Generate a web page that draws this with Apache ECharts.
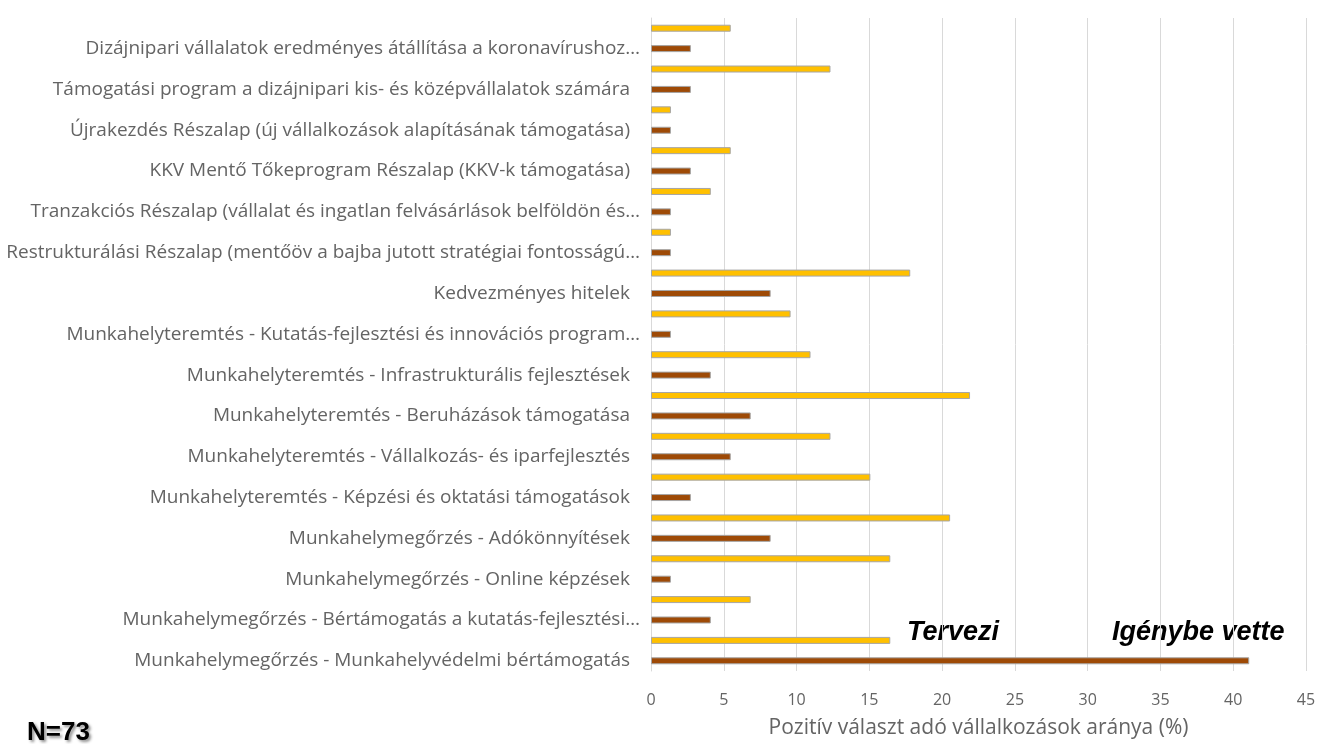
<!DOCTYPE html>
<html>
<head>
<meta charset="utf-8">
<script src="https://cdn.jsdelivr.net/npm/echarts@6/dist/echarts.min.js"></script>
<style>
    html, body { margin: 0; padding: 0; background: #fff; }
    #chart { width: 1343px; height: 744px; }
</style>
</head>
<body>
<div id="chart"></div>
<script>
// kategóriák fentről lefelé
const categories = [
    "Dizájnipari vállalatok eredményes átállítása a koronavírushoz…",
    "Támogatási program a dizájnipari kis- és középvállalatok számára",
    "Újrakezdés Részalap (új vállalkozások alapításának támogatása)",
    "KKV Mentő Tőkeprogram Részalap (KKV-k támogatása)",
    "Tranzakciós Részalap (vállalat és ingatlan felvásárlások belföldön és…",
    "Restrukturálási Részalap (mentőöv a bajba jutott stratégiai fontosságú…",
    "Kedvezményes hitelek",
    "Munkahelyteremtés - Kutatás-fejlesztési és innovációs program…",
    "Munkahelyteremtés - Infrastrukturális fejlesztések",
    "Munkahelyteremtés - Beruházások támogatása",
    "Munkahelyteremtés - Vállalkozás- és iparfejlesztés",
    "Munkahelyteremtés - Képzési és oktatási támogatások",
    "Munkahelymegőrzés - Adókönnyítések",
    "Munkahelymegőrzés - Online képzések",
    "Munkahelymegőrzés - Bértámogatás a kutatás-fejlesztési…",
    "Munkahelymegőrzés - Munkahelyvédelmi bértámogatás"
];
// Tervezi (sárga)
const tervezi = [5.48, 12.33, 1.37, 5.48, 4.11, 1.37, 17.81, 9.59, 10.96, 21.92, 12.33, 15.07, 20.55, 16.44, 6.85, 16.44];
// Igénybe vette (barna)
const igenybeVette = [2.74, 2.74, 1.37, 2.74, 1.37, 1.37, 8.22, 1.37, 4.11, 6.85, 5.48, 2.74, 8.22, 1.37, 4.11, 41.1];
const xTicks = [0, 45, 5];

// minden kategória két sorból áll: felül a sárga, alul a barna sáv (a felirat a barnánál)
const rows = [];
const rowTervezi = [];
const rowIgenybe = [];
categories.forEach((name, i) => {
    rows.push("");
    rowTervezi.push(tervezi[i]);
    rowIgenybe.push(null);
    rows.push(name);
    rowTervezi.push(null);
    rowIgenybe.push(igenybeVette[i]);
});

const chart = echarts.init(document.getElementById("chart"));
const labelFont = "'Open Sans', sans-serif";
const textColor = "#646464";

chart.setOption({
    animation: false,
    grid: { left: 651, top: 18, width: 655, height: 657, containLabel: false },
    xAxis: {
        type: "value",
        min: xTicks[0],
        max: xTicks[1],
        interval: xTicks[2],
        name: "Pozitív választ adó vállalkozások aránya (%)",
        nameLocation: "middle",
        nameGap: 47,
        nameTextStyle: { color: textColor, fontSize: 21, fontFamily: labelFont },
        axisLine: { show: false },
        axisTick: { show: false },
        axisLabel: { color: textColor, fontSize: 16, fontFamily: labelFont, margin: 21 },
        splitLine: { lineStyle: { color: "#D9D9D9", width: 1 } }
    },
    yAxis: {
        type: "category",
        data: rows,
        inverse: true,
        axisLine: { lineStyle: { color: "#D9D9D9", width: 1 } },
        axisTick: { show: false },
        axisLabel: {
            color: textColor,
            fontSize: 19,
            fontFamily: labelFont,
            margin: 11,
            interval: 0,
            // a nem rövidített feliratok kicsit beljebb végződnek
            formatter(v) {
                return v.endsWith("…") ? v : "{p|" + v + "}";
            },
            rich: {
                p: { color: textColor, fontSize: 19, fontFamily: labelFont, padding: [0, 10, 0, 0] }
            }
        }
    },
    series: [
        {
            name: "Tervezi",
            type: "bar",
            data: rowTervezi,
            barWidth: 7,
            barGap: "-100%",
            itemStyle: { color: "#FFC000", borderColor: "#A6A6A6", borderWidth: 1 }
        },
        {
            name: "Igénybe vette",
            type: "bar",
            data: rowIgenybe,
            barWidth: 7,
            itemStyle: { color: "#9E4A06", borderColor: "#A6A6A6", borderWidth: 1 }
        }
    ],
    graphic: [
        {
            type: "text", left: 907, top: 619,
            style: { text: "Tervezi", font: "italic bold 27px Arial, 'Liberation Sans', sans-serif", fill: "#000" }
        },
        {
            type: "text", left: 1112, top: 619,
            style: { text: "Igénybe vette", font: "italic bold 27px Arial, 'Liberation Sans', sans-serif", fill: "#000" }
        },
        {
            type: "text", left: 27, top: 720,
            style: {
                text: "N=73", font: "bold 26px Arial, 'Liberation Sans', sans-serif", fill: "#000",
                textShadowColor: "rgba(0,0,0,0.45)", textShadowBlur: 3, textShadowOffsetX: 2, textShadowOffsetY: 2
            }
        }
    ]
});
</script>
</body>
</html>
